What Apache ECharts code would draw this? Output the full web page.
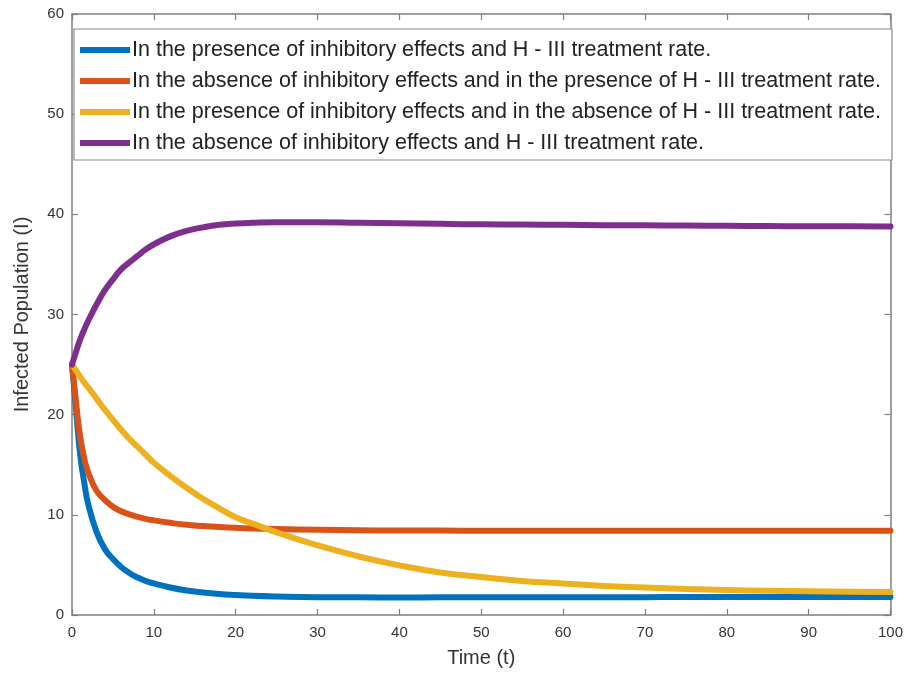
<!DOCTYPE html>
<html>
<head>
<meta charset="utf-8">
<script src="https://cdn.jsdelivr.net/npm/echarts@6/dist/echarts.min.js"></script>
<style>
  html, body { margin: 0; padding: 0; background: #fff; }
  #chart { width: 906px; height: 673px; }
</style>
</head>
<body>
<div id="chart"></div>
<script>
// Time samples (t) shared by all four model runs
const timeT = [0, 0.5, 1, 1.5, 2, 3, 4, 5, 6, 7, 8, 9, 10, 12, 14, 16, 18, 20, 22, 25,
               30, 35, 40, 45, 50, 55, 60, 65, 70, 75, 80, 85, 90, 95, 100];

// Infected population I(t) for each scenario
const withInhibWithTreat = [25, 20.5, 16.0, 13.2, 11.0, 8.3, 6.6, 5.6, 4.8, 4.2, 3.75, 3.4, 3.15, 2.75,
                            2.45, 2.25, 2.1, 2.0, 1.92, 1.85, 1.78, 1.76, 1.75, 1.76, 1.76, 1.77, 1.77,
                            1.78, 1.78, 1.79, 1.79, 1.8, 1.8, 1.8, 1.8];
const noInhibWithTreat = [25, 21.2, 17.8, 15.6, 14.2, 12.4, 11.5, 10.8, 10.35, 10.05, 9.8, 9.6, 9.45, 9.2,
                          9.0, 8.88, 8.78, 8.7, 8.64, 8.58, 8.5, 8.46, 8.44, 8.43, 8.42, 8.42, 8.41,
                          8.41, 8.41, 8.4, 8.4, 8.4, 8.4, 8.4, 8.4];
const withInhibNoTreat = [25, 24.4, 23.8, 23.2, 22.7, 21.6, 20.5, 19.5, 18.5, 17.6, 16.8, 16.0, 15.2, 13.9,
                          12.7, 11.6, 10.65, 9.75, 9.15, 8.25, 6.95, 5.85, 4.95, 4.25, 3.8, 3.4, 3.15,
                          2.9, 2.75, 2.6, 2.5, 2.42, 2.36, 2.32, 2.3];
const noInhibNoTreat = [25, 26.3, 27.5, 28.5, 29.4, 31.0, 32.4, 33.5, 34.5, 35.2, 35.85, 36.5, 37.0, 37.8,
                        38.35, 38.7, 38.95, 39.08, 39.15, 39.2, 39.2, 39.15, 39.1, 39.05, 39.0, 38.98,
                        38.95, 38.92, 38.9, 38.88, 38.85, 38.83, 38.8, 38.8, 38.78];

const seriesNames = [
  'In the presence of inhibitory effects and H - III treatment rate.',
  'In the absence of inhibitory effects and in the presence of H - III treatment rate.',
  'In the presence of inhibitory effects and in the absence of H - III treatment rate.',
  'In the absence of inhibitory effects and H - III treatment rate.'
];
const seriesData = [withInhibWithTreat, noInhibWithTreat, withInhibNoTreat, noInhibNoTreat];
const seriesColors = ['#0072BD', '#D95319', '#EDB120', '#7E2F8E'];

const xTicks = [0, 10, 20, 30, 40, 50, 60, 70, 80, 90, 100];
const yTicks = [0, 10, 20, 30, 40, 50, 60];

const axisGray = '#7f7f7f';
const textGray = '#333333';
const font = 'Liberation Sans, Arial, Helvetica, sans-serif';

const chart = echarts.init(document.getElementById('chart'), null, { renderer: 'canvas' });

// Axes drawn as a closed box, ticks pointing inward on all four sides
function boxAxis(base) {
  return Object.assign({
    axisLine: { show: true, onZero: false, lineStyle: { color: axisGray, width: 1.5 } },
    axisTick: { show: true, inside: true, length: 6, lineStyle: { color: axisGray, width: 1.2 } },
    splitLine: { show: false }
  }, base);
}

chart.setOption({
  animation: false,
  backgroundColor: '#ffffff',
  grid: { left: 72, right: 12, top: 14, bottom: 55, containLabel: false },
  graphic: [{
    type: 'rect',
    z: 3,
    shape: { x: 74, y: 29, width: 818, height: 131 },
    style: { fill: '#ffffff', stroke: '#8a8a8a', lineWidth: 1.2 }
  }],
  legend: {
    z: 5,
    orient: 'vertical',
    left: 75,
    top: 37,
    padding: [2, 0, 0, 5],
    itemWidth: 50,
    itemHeight: 6,
    itemGap: 9,
    icon: 'rect',
    textStyle: { fontFamily: font, fontSize: 21.5, color: '#222222', padding: [0, 0, 0, -3] },
    data: seriesNames
  },
  xAxis: [
    boxAxis({
      type: 'value', min: xTicks[0], max: xTicks[xTicks.length - 1], interval: 10,
      position: 'bottom',
      name: 'Time (t)', nameLocation: 'middle', nameGap: 33,
      nameTextStyle: { fontFamily: font, fontSize: 20, color: textGray },
      axisLabel: { fontFamily: font, fontSize: 15, color: textGray, margin: 10 }
    }),
    boxAxis({
      type: 'value', min: xTicks[0], max: xTicks[xTicks.length - 1], interval: 10,
      position: 'top', axisLabel: { show: false }
    })
  ],
  yAxis: [
    boxAxis({
      type: 'value', min: yTicks[0], max: yTicks[yTicks.length - 1], interval: 10,
      position: 'left',
      name: 'Infected Population (I)', nameLocation: 'middle', nameGap: 40,
      nameTextStyle: { fontFamily: font, fontSize: 20, color: textGray },
      axisLabel: { fontFamily: font, fontSize: 15, color: textGray, margin: 8 }
    }),
    boxAxis({
      type: 'value', min: yTicks[0], max: yTicks[yTicks.length - 1], interval: 10,
      position: 'right', axisLabel: { show: false }
    })
  ],
  series: seriesData.map((vals, i) => ({
    name: seriesNames[i],
    type: 'line',
    xAxisIndex: 0,
    yAxisIndex: 0,
    data: timeT.map((t, k) => [t, vals[k]]),
    smooth: 0.5,
    symbol: 'none',
    clip: true,
    lineStyle: { color: seriesColors[i], width: 6, cap: 'round', join: 'round' },
    itemStyle: { color: seriesColors[i] }
  }))
});
</script>
</body>
</html>
